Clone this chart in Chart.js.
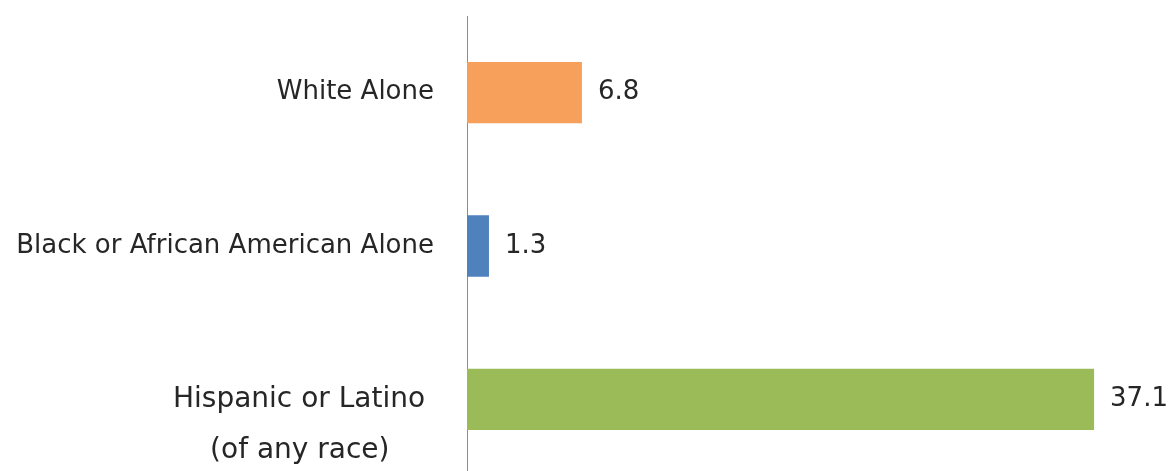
<!DOCTYPE html>
<html>
<head>
<meta charset="utf-8">
<script src="https://cdn.jsdelivr.net/npm/chart.js@4/dist/chart.umd.min.js"></script>
<style>
  html, body { margin: 0; padding: 0; background: #fff; overflow: hidden; }
  #wrap { position: relative; width: 1172px; height: 476px; }
</style>
</head>
<body>
<div id="wrap"><canvas id="c"></canvas></div>
<script>
// Data
const categories = [
  "White Alone",
  "Black or African American Alone",
  ["", "Hispanic or Latino ", "(of any race)     "]
];
const values = [6.8, 1.3, 37.1];
const valueLabels = ["6.8", "1.3", "37.1"];
const barColors = ["#F7A05B", "#4F81BD", "#9BBB59"];

const FONT = "'DejaVu Sans', sans-serif";

const valueLabelPlugin = {
  id: 'valueLabels',
  afterDatasetsDraw(chart) {
    const ctx = chart.ctx;
    const meta = chart.getDatasetMeta(0);
    ctx.save();
    ctx.font = "26px " + FONT;
    ctx.fillStyle = "#262626";
    ctx.textAlign = "left";
    ctx.textBaseline = "middle";
    meta.data.forEach((bar, i) => {
      ctx.fillText(valueLabels[i], bar.x + 16, bar.y);
    });
    ctx.restore();
  }
};

new Chart(document.getElementById('c'), {
  type: 'bar',
  data: {
    labels: categories,
    datasets: [{
      data: values,
      backgroundColor: barColors,
      borderWidth: 0,
      barPercentage: 0.4,
      categoryPercentage: 1.0
    }]
  },
  options: {
    indexAxis: 'y',
    responsive: true,
    maintainAspectRatio: false,
    animation: false,
    layout: { padding: { top: 16, right: 12, left: 0, bottom: 0 } },
    plugins: { legend: { display: false }, tooltip: { enabled: false } },
    scales: {
      x: {
        display: false,
        min: 0,
        max: 41
      },
      y: {
        grid: { display: false, drawTicks: false },
        border: { display: true, color: "#8c8c8c", width: 1 },
        ticks: {
          color: "#262626",
          padding: 33,
          autoSkip: false,
          font: (ctx) => ({ family: FONT, size: ctx.index === 2 ? 28 : 26, lineHeight: '51px' })
        },
        afterFit(scale) {
          scale.width = 467;
          scale.paddingTop = 0;
          scale.paddingBottom = 0;
        }
      }
    }
  },
  plugins: [valueLabelPlugin]
});
</script>
</body>
</html>
